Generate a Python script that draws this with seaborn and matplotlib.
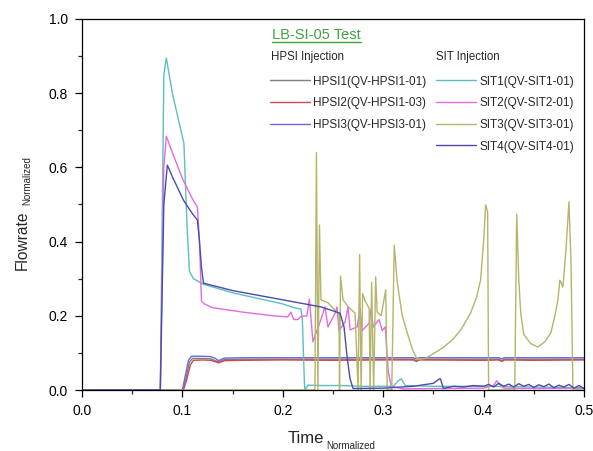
import matplotlib
matplotlib.use("Agg")
import matplotlib.pyplot as plt
import seaborn as sns
import pandas as pd
from matplotlib.lines import Line2D
from matplotlib.ticker import MultipleLocator

# ---------------- data ----------------
hpsi1_t = [0, 0.1005, 0.1035, 0.107, 0.110, 0.120, 0.128, 0.133, 0.136, 0.139, 0.142, 0.16, 0.2, 0.25,
           0.3, 0.33, 0.333, 0.336, 0.4, 0.415, 0.418, 0.421, 0.45, 0.5]
hpsi1_v = [0, 0, 0.03, 0.075, 0.085, 0.085, 0.084, 0.079, 0.076, 0.079, 0.082, 0.083, 0.083, 0.083,
           0.083, 0.083, 0.079, 0.083, 0.083, 0.083, 0.079, 0.083, 0.083, 0.083]

hpsi2_t = [0, 0.101, 0.104, 0.108, 0.111, 0.120, 0.128, 0.133, 0.136, 0.139, 0.142, 0.16, 0.2, 0.25,
           0.3, 0.33, 0.333, 0.336, 0.4, 0.415, 0.418, 0.421, 0.45, 0.5]
hpsi2_v = [0, 0, 0.025, 0.068, 0.080, 0.081, 0.080, 0.076, 0.073, 0.076, 0.079, 0.080, 0.081, 0.080,
           0.081, 0.081, 0.077, 0.081, 0.080, 0.081, 0.077, 0.081, 0.080, 0.081]

hpsi3_t = [0, 0.1, 0.103, 0.106, 0.109, 0.120, 0.128, 0.133, 0.136, 0.139, 0.142, 0.16, 0.2, 0.25,
           0.3, 0.33, 0.333, 0.336, 0.4, 0.415, 0.418, 0.421, 0.45, 0.5]
hpsi3_v = [0, 0, 0.04, 0.08, 0.091, 0.091, 0.090, 0.085, 0.079, 0.083, 0.086, 0.087, 0.087, 0.087,
           0.087, 0.087, 0.084, 0.087, 0.087, 0.087, 0.084, 0.087, 0.087, 0.087]

sit1_t = [0, 0.078, 0.0815, 0.084, 0.090, 0.1015, 0.1045, 0.107, 0.111, 0.121, 0.15, 0.2, 0.211, 0.218,
          0.2195, 0.2215, 0.222, 0.225, 0.24, 0.26, 0.28, 0.31, 0.315, 0.318, 0.322, 0.35, 0.4, 0.45, 0.5]
sit1_v = [0, 0, 0.85, 0.895, 0.80, 0.665, 0.45, 0.32, 0.30, 0.285, 0.262, 0.232, 0.222, 0.218,
          0.19, 0.02, 0.0, 0.013, 0.012, 0.012, 0.010, 0.010, 0.025, 0.030, 0.012, 0.010, 0.010, 0.008, 0.006]

sit2_t = [0, 0.078, 0.0815, 0.084, 0.090, 0.100, 0.110, 0.115, 0.117, 0.119, 0.122, 0.13, 0.16, 0.19,
          0.205, 0.208, 0.211, 0.215, 0.218, 0.224, 0.2265, 0.230, 0.238, 0.242, 0.245, 0.252, 0.254,
          0.256, 0.262, 0.265, 0.267, 0.274, 0.277, 0.279, 0.286, 0.288, 0.290, 0.296, 0.299, 0.302,
          0.305, 0.308, 0.32, 0.35, 0.40, 0.41, 0.413, 0.416, 0.42, 0.45, 0.5]
sit2_v = [0, 0, 0.60, 0.684, 0.64, 0.57, 0.515, 0.493, 0.40, 0.24, 0.232, 0.222, 0.21, 0.20,
          0.197, 0.21, 0.19, 0.19, 0.198, 0.20, 0.245, 0.13, 0.19, 0.224, 0.17, 0.207, 0.224,
          0.16, 0.183, 0.224, 0.162, 0.17, 0.22, 0.16, 0.18, 0.22, 0.17, 0.19, 0.16, 0.17,
          0.05, 0.01, 0.003, 0.004, 0.005, 0.012, 0.025, 0.015, 0.005, 0.004, 0.005]

sit3_t = [0, 0.232, 0.2335, 0.235, 0.2365, 0.238, 0.245, 0.252, 0.256, 0.2565, 0.2575, 0.26, 0.265,
          0.272, 0.275, 0.2765, 0.278, 0.2795, 0.282, 0.286, 0.287, 0.2885, 0.2905, 0.2925, 0.294,
          0.298, 0.3025, 0.304, 0.3085, 0.311, 0.314, 0.319, 0.324, 0.329, 0.334, 0.342, 0.35, 0.36,
          0.37, 0.378, 0.387, 0.393, 0.397, 0.400, 0.402, 0.404, 0.405, 0.431, 0.433, 0.435, 0.437,
          0.440, 0.447, 0.454, 0.461, 0.467, 0.471, 0.474, 0.476, 0.479, 0.482, 0.485, 0.487, 0.489, 0.5]
sit3_v = [0, 0, 0.64, 0, 0.445, 0.243, 0.235, 0.215, 0.207, 0, 0.307, 0.243, 0.225,
          0.207, 0, 0.365, 0, 0.26, 0.24, 0.22, 0, 0.29, 0, 0.305, 0.21,
          0.20, 0.27, 0, 0, 0.39, 0.29, 0.20, 0.154, 0.11, 0.082, 0.085, 0.098, 0.115,
          0.138, 0.165, 0.207, 0.25, 0.296, 0.40, 0.499, 0.48, 0, 0, 0.474, 0.30, 0.207,
          0.15, 0.125, 0.116, 0.13, 0.154, 0.20, 0.243, 0.296, 0.278, 0.377, 0.507, 0.35, 0, 0]

sit4_t = [0, 0.078, 0.0815, 0.085, 0.090, 0.101, 0.110, 0.115, 0.117, 0.119, 0.121, 0.15, 0.2, 0.238,
          0.257, 0.261, 0.264, 0.267, 0.270, 0.3, 0.33, 0.350, 0.356, 0.357, 0.360, 0.37, 0.38, 0.39,
          0.40, 0.405, 0.41, 0.415, 0.42, 0.425, 0.43, 0.435, 0.44, 0.445, 0.45, 0.455, 0.46, 0.465,
          0.47, 0.475, 0.48, 0.485, 0.49, 0.495, 0.5]
sit4_v = [0, 0, 0.50, 0.606, 0.575, 0.512, 0.475, 0.458, 0.40, 0.33, 0.288, 0.268, 0.243, 0.224,
          0.207, 0.17, 0.09, 0.03, 0.004, 0.005, 0.010, 0.018, 0.03, 0.03, 0.004, 0.010, 0.008, 0.012,
          0.010, 0.015, 0.008, 0.018, 0.010, 0.016, 0.008, 0.017, 0.010, 0.015, 0.007, 0.014, 0.009, 0.016,
          0.006, 0.013, 0.008, 0.015, 0.005, 0.012, 0.004]

hpsi_labels = ["HPSI1(QV-HPSI1-01)", "HPSI2(QV-HPSI1-03)", "HPSI3(QV-HPSI3-01)"]
sit_labels = ["SIT1(QV-SIT1-01)", "SIT2(QV-SIT2-01)", "SIT3(QV-SIT3-01)", "SIT4(QV-SIT4-01)"]
x_ticks = [0.0, 0.1, 0.2, 0.3, 0.4, 0.5]
y_ticks = [0.0, 0.2, 0.4, 0.6, 0.8, 1.0]

series = [
    (hpsi_labels[0], hpsi1_t, hpsi1_v, "#7f7f7f"),
    (hpsi_labels[1], hpsi2_t, hpsi2_v, "#cc4a4a"),
    (hpsi_labels[2], hpsi3_t, hpsi3_v, "#6a6ae0"),
    (sit_labels[0], sit1_t, sit1_v, "#5ebebe"),
    (sit_labels[1], sit2_t, sit2_v, "#e26be2"),
    (sit_labels[2], sit3_t, sit3_v, "#b4b46a"),
    (sit_labels[3], sit4_t, sit4_v, "#4c4ca6"),
]

# ---------------- figure ----------------
sns.set_style("ticks")
plt.rcParams["font.family"] = ["Liberation Sans", "DejaVu Sans"]

W, H = 593, 451
fig = plt.figure(figsize=(5.93, 4.51), dpi=100)
ax = fig.add_axes([82 / W, 1 - 390 / H, (584 - 82) / W, (390 - 19) / H])

handles = {}
for name, t, v, col in series:
    df = pd.DataFrame({"t": t, "v": v})
    sns.lineplot(data=df, x="t", y="v", color=col, lw=1.0, sort=False,
                 estimator=None, ax=ax, label=name)
    handles[name] = ax.lines[-1]

ax.set_xlim(0, 0.5)
ax.set_ylim(0, 1.0)
ax.set_xticks(x_ticks)
ax.set_yticks(y_ticks)
ax.set_xticklabels([f"{x:.1f}" for x in x_ticks])
ax.set_yticklabels([f"{y:.1f}" for y in y_ticks])
ax.xaxis.set_minor_locator(MultipleLocator(0.05))
ax.yaxis.set_minor_locator(MultipleLocator(0.1))
ax.tick_params(which="major", direction="out", length=5, width=0.9, labelsize=10, pad=5,
               colors="black", top=False, right=False)
ax.tick_params(which="minor", direction="out", length=3, width=0.9, top=False, right=False)
for s in ax.spines.values():
    s.set_visible(True)
    s.set_linewidth(0.9)
    s.set_color("black")
ax.set_xlabel("")
ax.set_ylabel("")

# axis labels with small subscripts
fig.text(306 / W, 1 - 443 / H, "Time", fontsize=12, ha="center", va="baseline")
fig.text(326 / W, 1 - 449 / H, "Normalized", fontsize=7, ha="left", va="baseline")
fig.text(27 / W, 1 - 240 / H, "Flowrate", fontsize=11.2, rotation=90, ha="center", va="baseline",
         rotation_mode="anchor")
fig.text(30 / W, 1 - 205 / H, "Normalized", fontsize=7, rotation=90, ha="left", va="baseline",
         rotation_mode="anchor")

# legend headers
fig.text(271 / W, 1 - 57 / H, "HPSI Injection", fontsize=8.3, ha="left", va="center")
fig.text(436 / W, 1 - 57 / H, "SIT Injection", fontsize=8.3, ha="left", va="center")

# legends
if ax.get_legend():
    ax.get_legend().remove()
common = dict(frameon=False, fontsize=8.5, handlelength=3.4, handletextpad=0.25,
              labelspacing=0.82, borderpad=0, borderaxespad=0, loc="upper left")
leg1 = ax.legend(handles=[handles[n] for n in hpsi_labels], labels=hpsi_labels,
                 bbox_to_anchor=(270 / W, 1 - 75.5 / H), bbox_transform=fig.transFigure, **common)
ax.add_artist(leg1)
leg2 = ax.legend(handles=[handles[n] for n in sit_labels], labels=sit_labels,
                 bbox_to_anchor=(436 / W, 1 - 75.5 / H), bbox_transform=fig.transFigure, **common)

# green underlined heading
ttl = fig.text(272 / W, 1 - 39 / H, "LB-SI-05 Test", fontsize=10.5, color="#3fa33f",
               ha="left", va="baseline")
fig.canvas.draw()
bb = ttl.get_window_extent().transformed(fig.transFigure.inverted())
fig.add_artist(Line2D([bb.x0, bb.x1], [bb.y0 - 0.001, bb.y0 - 0.001], color="#3fa33f", lw=1.0,
                      transform=fig.transFigure))

fig.savefig("out.png", dpi=100)
